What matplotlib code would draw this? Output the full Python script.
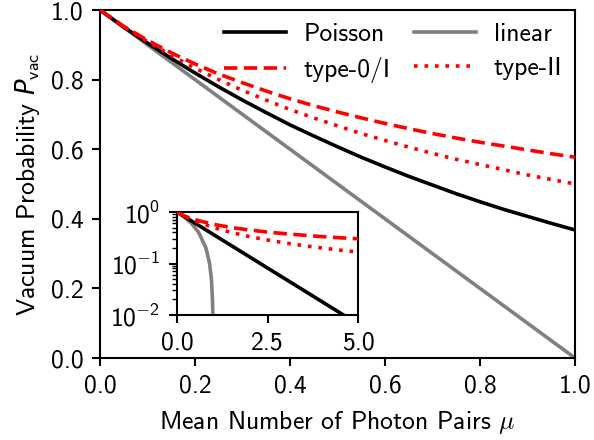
import matplotlib
matplotlib.use("Agg")
import matplotlib.pyplot as plt

plt.rcParams['font.family'] = ['cmss10', 'DejaVu Sans']
plt.rcParams['mathtext.fontset'] = 'custom'
plt.rcParams['mathtext.rm'] = 'cmss10'
plt.rcParams['mathtext.sf'] = 'cmss10'
plt.rcParams['axes.unicode_minus'] = False
plt.rcParams['font.size'] = 18.5
plt.rcParams['axes.linewidth'] = 1.5
for a in ('xtick', 'ytick'):
    plt.rcParams[a + '.major.size'] = 6
    plt.rcParams[a + '.major.width'] = 1.5
    plt.rcParams[a + '.minor.size'] = 3.5
    plt.rcParams[a + '.minor.width'] = 1.0
    plt.rcParams[a + '.major.pad'] = 6

# main panel data
mu = [0.0, 0.05, 0.10, 0.15, 0.20, 0.25, 0.30, 0.35, 0.40, 0.45, 0.50,
      0.55, 0.60, 0.65, 0.70, 0.75, 0.80, 0.85, 0.90, 0.95, 1.00]
poisson = [1.000, 0.951, 0.905, 0.861, 0.819, 0.779, 0.741, 0.705, 0.670, 0.638, 0.607,
           0.577, 0.549, 0.522, 0.497, 0.472, 0.449, 0.427, 0.407, 0.387, 0.368]
type01 = [1.000, 0.953, 0.913, 0.877, 0.845, 0.816, 0.791, 0.767, 0.745, 0.725, 0.707,
          0.690, 0.674, 0.659, 0.645, 0.632, 0.620, 0.609, 0.598, 0.587, 0.577]
type2 = [1.000, 0.952, 0.909, 0.870, 0.833, 0.800, 0.769, 0.741, 0.714, 0.690, 0.667,
         0.645, 0.625, 0.606, 0.588, 0.571, 0.556, 0.541, 0.526, 0.513, 0.500]
mu_lin = [0.0, 1.0]
linear = [1.0, 0.0]

# inset data
mu_in = [0.0, 0.1, 0.25, 0.5, 1.0, 1.5, 2.0, 2.5, 3.0, 3.5, 4.0, 4.5, 5.0]
type01_in = [1.000, 0.913, 0.816, 0.707, 0.577, 0.500, 0.447, 0.408, 0.378, 0.354, 0.333, 0.316, 0.302]
type2_in = [1.000, 0.909, 0.800, 0.667, 0.500, 0.400, 0.333, 0.286, 0.250, 0.222, 0.200, 0.182, 0.167]
mu_pois_in = [0.0, 5.0]
poisson_in = [1.0, 0.0067]
mu_lin_in = [0.0, 0.2, 0.4, 0.6, 0.8, 0.9, 0.95, 0.98, 0.99, 0.995]
linear_in = [1.0, 0.8, 0.6, 0.4, 0.2, 0.1, 0.05, 0.02, 0.01, 0.005]

lw = 2.6
dash = (0, (3.7, 1.8))
dot = (0, (1.0, 1.9))
fig = plt.figure(figsize=(5.94, 4.40), dpi=100)
ax = fig.add_axes([100/594, 1-358/440, 475/594, 348/440])
l1, = ax.plot(mu, poisson, color='black', lw=lw, label='Poisson', zorder=3)
l3, = ax.plot(mu_lin, linear, color='gray', lw=lw, label='linear', zorder=2)
l2, = ax.plot(mu, type01, color='red', lw=lw, ls=dash, label='type-0/I', zorder=4)
l4, = ax.plot(mu, type2, color='red', lw=lw, ls=dot, label='type-II', zorder=4)
ax.set_xlim(0, 1)
ax.set_ylim(0, 1)
ax.set_xticks([0, 0.2, 0.4, 0.6, 0.8, 1.0])
ax.set_xticklabels(['0.0', '0.2', '0.4', '0.6', '0.8', '1.0'])
ax.set_yticks([0, 0.2, 0.4, 0.6, 0.8, 1.0])
ax.set_yticklabels(['0.0', '0.2', '0.4', '0.6', '0.8', '1.0'])
ax.set_xlabel(r'Mean Number of Photon Pairs $\mu$', math_fontfamily='cm', labelpad=8)
ax.set_ylabel(r'Vacuum Probability $P_\mathsf{vac}$', labelpad=6)
ax.legend(handles=[l1, l2, l3, l4], ncol=2, frameon=False, loc='upper right',
          handlelength=2.4, columnspacing=0.9, borderaxespad=0.1, handletextpad=0.7,
          labelspacing=0.45)

axi = fig.add_axes([177/594, 1-315/440, 181/594, 103/440])
axi.plot(mu_pois_in, poisson_in, color='black', lw=lw, zorder=3)
axi.plot(mu_lin_in, linear_in, color='gray', lw=lw, zorder=2)
axi.plot(mu_in, type01_in, color='red', lw=lw, ls=dash, zorder=4)
axi.plot(mu_in, type2_in, color='red', lw=lw, ls=dot, zorder=4)
axi.set_yscale('log')
axi.set_xlim(0, 5)
axi.set_ylim(1e-2, 1)
axi.set_xticks([0, 2.5, 5.0])
axi.set_xticklabels(['0.0', '2.5', '5.0'])
axi.set_yticks([1e-2, 1e-1, 1])
axi.set_yticklabels([r'$\mathsf{10}^{\mathsf{-2}}$', r'$\mathsf{10}^{\mathsf{-1}}$', r'$\mathsf{10}^{\mathsf{0}}$'])

fig.savefig('out.png', dpi=100)
